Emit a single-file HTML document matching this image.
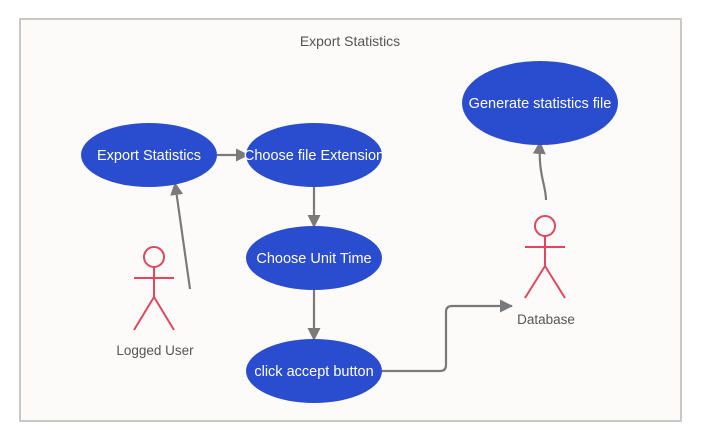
<!DOCTYPE html>
<html><head><style>body{margin:0;background:#fff}svg{display:block}</style></head><body>
<svg width="701" height="443" viewBox="0 0 701 443" xmlns="http://www.w3.org/2000/svg" font-family="'Liberation Sans', sans-serif">
<defs><marker id="a" markerWidth="14" markerHeight="14" refX="12" refY="6.5" orient="auto" markerUnits="userSpaceOnUse"><path d="M0,0 L13,6.5 L0,13 z" fill="#7a7a7a"/></marker></defs>
<rect x="20" y="19" width="661" height="402" fill="#fcfbfa" stroke="#c8c8c8" stroke-width="2"/>
<text x="350" y="46" text-anchor="middle" font-size="14" fill="#555">Export Statistics</text>
<g stroke="#7a7a7a" stroke-width="2.2" fill="none">
<line x1="217" y1="155" x2="248" y2="155" marker-end="url(#a)"/>
<line x1="314" y1="187" x2="314" y2="227" marker-end="url(#a)"/>
<line x1="314" y1="290" x2="314" y2="340" marker-end="url(#a)"/>
<line x1="190" y1="289" x2="175" y2="183" marker-end="url(#a)"/>
<path d="M546,200 C546,185 538,175 540,142" marker-end="url(#a)"/>
<path d="M382,371 L440,371 Q446,371 446,365 L446,312 Q446,306 452,306 L512,306" marker-end="url(#a)"/>
</g>
<g fill="#2a4ccf">
<ellipse cx="149" cy="155" rx="68" ry="32"/>
<ellipse cx="314" cy="155" rx="68" ry="32"/>
<ellipse cx="314" cy="258" rx="68" ry="32"/>
<ellipse cx="314" cy="371" rx="68" ry="32"/>
<ellipse cx="540" cy="103" rx="78" ry="42"/>
</g>
<g fill="#fff" font-size="14.5" text-anchor="middle">
<text x="149" y="160">Export Statistics</text>
<text x="314" y="160">Choose file Extension</text>
<text x="314" y="263">Choose Unit Time</text>
<text x="314" y="376">click accept button</text>
<text x="540" y="108">Generate statistics file</text>
</g>
<g stroke="#e0475f" stroke-width="2" fill="none">
<circle cx="154" cy="257" r="10"/><line x1="154" y1="267" x2="154" y2="297"/><line x1="134" y1="278" x2="174" y2="278"/><line x1="154" y1="297" x2="134" y2="330"/><line x1="154" y1="297" x2="174" y2="330"/>
<circle cx="545" cy="226" r="10"/><line x1="545" y1="236" x2="545" y2="266"/><line x1="525" y1="247" x2="565" y2="247"/><line x1="545" y1="266" x2="525" y2="298"/><line x1="545" y1="266" x2="565" y2="298"/>
</g>
<g fill="#555" font-size="13.5" text-anchor="middle">
<text x="155" y="355">Logged User</text>
<text x="546" y="324">Database</text>
</g>
</svg>
</body></html>
